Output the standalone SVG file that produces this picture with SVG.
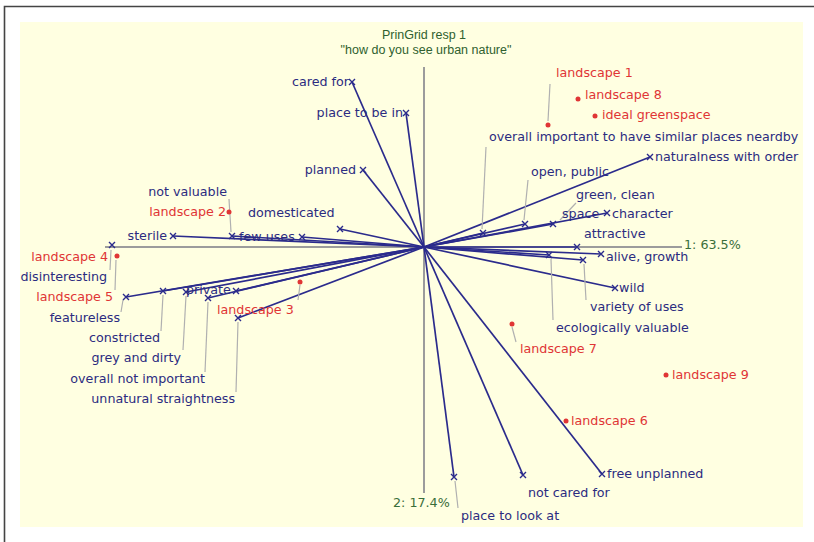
<svg xmlns="http://www.w3.org/2000/svg" width="814" height="542" viewBox="0 0 814 542">
<defs>
<style>
.t{font-family:"DejaVu Sans",Verdana,sans-serif;font-size:12.7px;fill:#2b2b80}
.r{font-family:"DejaVu Sans",Verdana,sans-serif;font-size:12.7px;fill:#e03535}
.g{font-family:"DejaVu Sans",Verdana,sans-serif;font-size:12.7px;fill:#3a6e3a}
.ttl{font-family:"Liberation Sans",Arial,sans-serif;font-size:12.5px;fill:#2f5f2f;text-anchor:middle}
.ln{stroke:#2b2b8c;stroke-width:1.7;fill:none}
.ax{stroke:#9c9c9c;stroke-width:2;fill:none}
.ld{stroke:#b0b0b0;stroke-width:1.2;fill:none}
.dot{fill:#e03535}
</style>
<path id="xm" d="M-3,-3L3,3M-3,3L3,-3" stroke="#2b2b8c" stroke-width="1.4" fill="none"/>
</defs>
<rect x="0" y="0" width="814" height="542" fill="#ffffff"/>
<path d="M4.5,542V6.5H814" stroke="#444" stroke-width="1.6" fill="none"/>
<rect x="20" y="22" width="783" height="505" fill="#ffffe1"/>
<g id="title">
<text class="ttl" x="424" y="39">PrinGrid resp 1</text>
<text class="ttl" x="426" y="54">"how do you see urban nature"</text>
</g>
<g id="axes">
<line class="ax" x1="105" y1="247" x2="682" y2="247"/>
<line class="ax" x1="424" y1="67" x2="424" y2="493"/>
<text class="g" x="684" y="249">1: 63.5%</text>
<text class="g" x="393" y="507">2: 17.4%</text>
</g>
<g id="connectors">
<g class="ln">
<line x1="424" y1="247" x2="352" y2="82"/>
<line x1="424" y1="247" x2="406" y2="113"/>
<line x1="424" y1="247" x2="363" y2="170"/>
<line x1="424" y1="247" x2="340" y2="229"/>
<line x1="424" y1="247" x2="302" y2="237"/>
<line x1="424" y1="247" x2="232" y2="236"/>
<line x1="424" y1="247" x2="173" y2="236"/>
<line x1="424" y1="247" x2="126" y2="297"/>
<line x1="424" y1="247" x2="163" y2="291"/>
<line x1="424" y1="247" x2="186" y2="292"/>
<line x1="424" y1="247" x2="236" y2="291"/>
<line x1="424" y1="247" x2="208" y2="298"/>
<line x1="424" y1="247" x2="238" y2="318"/>
<line x1="424" y1="247" x2="650" y2="157"/>
<line x1="424" y1="247" x2="483" y2="233"/>
<line x1="424" y1="247" x2="525" y2="224"/>
<line x1="424" y1="247" x2="553" y2="224"/>
<line x1="424" y1="247" x2="607" y2="213"/>
<line x1="424" y1="247" x2="577" y2="247"/>
<line x1="424" y1="247" x2="601" y2="254"/>
<line x1="424" y1="247" x2="583" y2="260"/>
<line x1="424" y1="247" x2="549" y2="255"/>
<line x1="424" y1="247" x2="615" y2="288"/>
<line x1="424" y1="247" x2="454" y2="477"/>
<line x1="424" y1="247" x2="523" y2="475"/>
<line x1="424" y1="247" x2="602" y2="474"/>
</g>
<g class="ld">
<line x1="229" y1="199" x2="231" y2="232"/>
<line x1="111" y1="250" x2="110" y2="270"/>
<line x1="116" y1="260" x2="115" y2="290"/>
<line x1="123" y1="300" x2="121" y2="312"/>
<line x1="163" y1="295" x2="161" y2="331"/>
<line x1="186" y1="296" x2="183" y2="350"/>
<line x1="208" y1="302" x2="205" y2="372"/>
<line x1="238" y1="322" x2="236" y2="392"/>
<line x1="300" y1="285" x2="298" y2="300"/>
<line x1="550" y1="84" x2="548" y2="121"/>
<line x1="486" y1="147" x2="482" y2="229"/>
<line x1="528" y1="180" x2="524" y2="220"/>
<line x1="576" y1="203" x2="560" y2="220"/>
<line x1="584" y1="264" x2="586" y2="300"/>
<line x1="551" y1="259" x2="553" y2="320"/>
<line x1="512" y1="327" x2="516" y2="342"/>
<line x1="455" y1="481" x2="458" y2="508"/>
</g>
</g>
<g id="n-cared-for"><use href="#xm" x="352" y="82"/><text class="t" x="349" y="86" text-anchor="end">cared for</text></g>
<g id="n-place-to-be-in"><use href="#xm" x="406" y="113"/><text class="t" x="403" y="117" text-anchor="end">place to be in</text></g>
<g id="n-planned"><use href="#xm" x="363" y="170"/><text class="t" x="356" y="174" text-anchor="end">planned</text></g>
<g id="n-domesticated"><use href="#xm" x="340" y="229"/><text class="t" x="248" y="217">domesticated</text></g>
<g id="n-few-uses"><use href="#xm" x="302" y="237"/><text class="t" x="239" y="241">few uses</text></g>
<g id="n-not-valuable"><use href="#xm" x="232" y="236"/><text class="t" x="227" y="196" text-anchor="end">not valuable</text></g>
<g id="n-sterile"><use href="#xm" x="173" y="236"/><text class="t" x="167" y="240" text-anchor="end">sterile</text></g>
<g id="n-disinteresting"><use href="#xm" x="112" y="245"/><text class="t" x="107" y="281" text-anchor="end">disinteresting</text></g>
<g id="n-featureless"><use href="#xm" x="126" y="297"/><text class="t" x="120" y="322" text-anchor="end">featureless</text></g>
<g id="n-constricted"><use href="#xm" x="163" y="291"/><text class="t" x="160" y="342" text-anchor="end">constricted</text></g>
<g id="n-grey-and-dirty"><use href="#xm" x="186" y="292"/><text class="t" x="181" y="362" text-anchor="end">grey and dirty</text></g>
<g id="n-private"><use href="#xm" x="236" y="291"/><text class="t" x="186" y="294">private</text></g>
<g id="n-overall-not-important"><use href="#xm" x="208" y="298"/><text class="t" x="205" y="383" text-anchor="end">overall not important</text></g>
<g id="n-unnatural-straightness"><use href="#xm" x="238" y="318"/><text class="t" x="235" y="403" text-anchor="end">unnatural straightness</text></g>
<g id="n-naturalness-with-order"><use href="#xm" x="650" y="157"/><text class="t" x="655" y="161">naturalness with order</text></g>
<g id="n-overall-important"><use href="#xm" x="483" y="233"/><text class="t" x="489" y="141">overall important to have similar places neardby</text></g>
<g id="n-open-public"><use href="#xm" x="525" y="224"/><text class="t" x="531" y="176">open, public</text></g>
<g id="n-green-clean"><use href="#xm" x="553" y="224"/><text class="t" x="576" y="199">green, clean</text></g>
<g id="n-space"><text class="t" x="562" y="218">space</text></g>
<g id="n-character"><use href="#xm" x="607" y="213"/><text class="t" x="612" y="218">character</text></g>
<g id="n-attractive"><use href="#xm" x="577" y="247"/><text class="t" x="584" y="238">attractive</text></g>
<g id="n-alive-growth"><use href="#xm" x="601" y="254"/><text class="t" x="606" y="261">alive, growth</text></g>
<g id="n-variety-of-uses"><use href="#xm" x="583" y="260"/><text class="t" x="590" y="311">variety of uses</text></g>
<g id="n-ecologically-valuable"><use href="#xm" x="549" y="255"/><text class="t" x="556" y="332">ecologically valuable</text></g>
<g id="n-wild"><use href="#xm" x="615" y="288"/><text class="t" x="619" y="292">wild</text></g>
<g id="n-place-to-look-at"><use href="#xm" x="454" y="477"/><text class="t" x="461" y="520">place to look at</text></g>
<g id="n-not-cared-for"><use href="#xm" x="523" y="475"/><text class="t" x="528" y="497">not cared for</text></g>
<g id="n-free-unplanned"><use href="#xm" x="602" y="474"/><text class="t" x="607" y="478">free unplanned</text></g>
<g id="e-landscape-1"><circle class="dot" cx="548" cy="125" r="2.5"/><text class="r" x="556" y="77">landscape 1</text></g>
<g id="e-landscape-8"><circle class="dot" cx="578" cy="99" r="2.5"/><text class="r" x="585" y="99">landscape 8</text></g>
<g id="e-ideal-greenspace"><circle class="dot" cx="595" cy="116" r="2.5"/><text class="r" x="602" y="119">ideal greenspace</text></g>
<g id="e-landscape-2"><circle class="dot" cx="229" cy="212" r="2.5"/><text class="r" x="226" y="216" text-anchor="end">landscape 2</text></g>
<g id="e-landscape-4"><circle class="dot" cx="117" cy="256" r="2.5"/><text class="r" x="108" y="261" text-anchor="end">landscape 4</text></g>
<g id="e-landscape-5"><text class="r" x="113" y="301" text-anchor="end">landscape 5</text></g>
<g id="e-landscape-3"><circle class="dot" cx="300" cy="282" r="2.5"/><text class="r" x="217" y="314">landscape 3</text></g>
<g id="e-landscape-7"><circle class="dot" cx="512" cy="324" r="2.5"/><text class="r" x="520" y="353">landscape 7</text></g>
<g id="e-landscape-9"><circle class="dot" cx="666" cy="375" r="2.5"/><text class="r" x="672" y="379">landscape 9</text></g>
<g id="e-landscape-6"><circle class="dot" cx="566" cy="421" r="2.5"/><text class="r" x="571" y="425">landscape 6</text></g>
</svg>
